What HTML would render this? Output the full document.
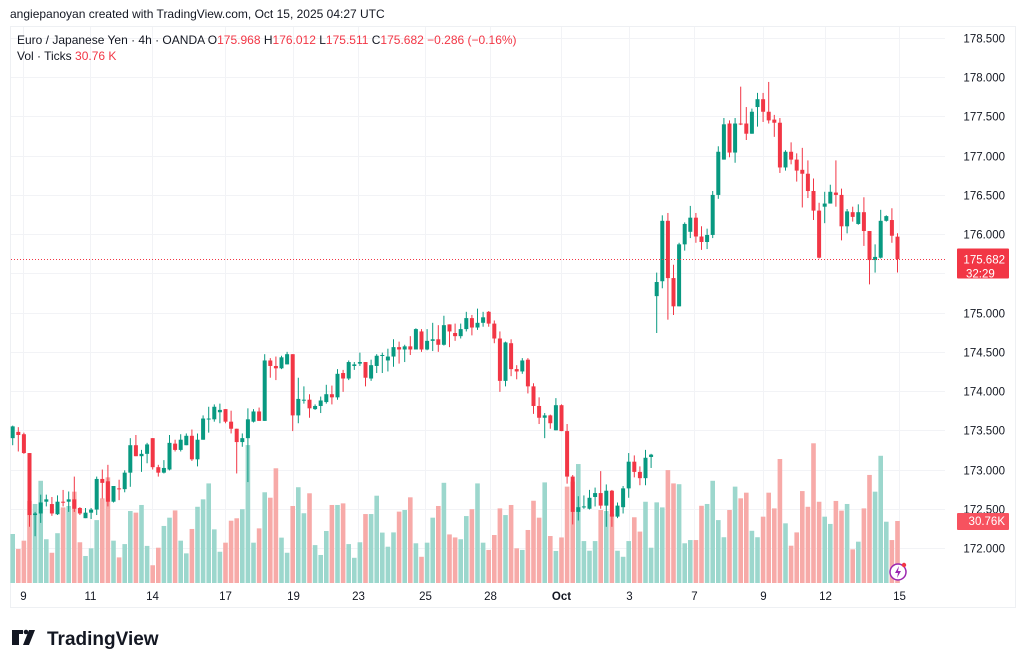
<!DOCTYPE html>
<html><head><meta charset="utf-8">
<style>
html,body{margin:0;padding:0;background:#fff;width:1024px;height:665px;overflow:hidden;font-family:"Liberation Sans",sans-serif;}
svg text{font-family:"Liberation Sans",sans-serif;}
</style></head>
<body>
<svg id="chart" width="1024" height="665" viewBox="0 0 1024 665" xmlns="http://www.w3.org/2000/svg">
  <text x="10" y="18" font-size="12" fill="#131722">angiepanoyan created with TradingView.com, Oct 15, 2025 04:27 UTC</text>
  <rect x="10.5" y="26.5" width="1005" height="581" fill="#fff" stroke="#eef0f3"/>
  <g id="grid"></g>
  <g id="volumes"></g>
  <g id="candles"></g>
  <g id="yaxis"></g>
  <g id="xaxis"></g>
  <g font-size="12" xml:space="preserve">
    <text x="17" y="44" fill="#131722">Euro / Japanese Yen · 4h · OANDA  O<tspan fill="#f23645">175.968</tspan>  H<tspan fill="#f23645">176.012</tspan>  L<tspan fill="#f23645">175.511</tspan>  C<tspan fill="#f23645">175.682  −0.286 (−0.16%)</tspan></text>
    <text x="17" y="60" fill="#131722">Vol · Ticks  <tspan fill="#f23645">30.76 K</tspan></text>
  </g>
  <g>
    <path d="M12 630h11v4h-4v11h-7zM29 630h6l-6 15h-6z" fill="#131722"/>
    <circle cx="26" cy="632" r="2.3" fill="#131722"/>
    <text x="47" y="645" font-size="19" font-weight="bold" fill="#131722">TradingView</text>
  </g>
  <g>
    <circle cx="898" cy="572" r="8" fill="#fff" stroke="#9c27b0" stroke-width="1.5"/>
    <path d="M899 566l-4 7h3l-1 5 4-7h-3z" fill="#9c27b0"/>
    <circle cx="904" cy="565" r="2.2" fill="#f23645"/>
  </g>
</svg>
<script>
const opens=[173.40,173.48,173.45,173.21,172.42,172.44,172.59,172.56,172.43,172.59,172.59,172.62,172.51,172.38,172.45,172.49,172.88,172.85,172.59,172.76,172.75,172.96,173.31,173.17,173.20,173.40,173.03,172.96,173.00,173.33,173.25,173.31,173.43,173.13,
173.38,173.64,173.64,173.73,173.77,173.61,173.52,173.35,173.40,173.61,173.74,173.62,174.39,174.32,174.29,174.34,174.47,173.69,173.89,173.89,173.77,173.81,173.86,173.96,173.92,174.23,174.16,174.32,174.35,174.37,174.16,174.32,174.45,174.39,
174.44,174.56,174.53,174.57,174.53,174.76,174.53,174.64,174.66,174.59,174.85,174.74,174.70,174.79,174.93,174.81,174.87,175.01,174.86,174.67,174.13,174.61,174.28,174.25,174.40,174.06,173.81,173.66,173.69,173.50,173.82,173.49,172.91,
172.46,172.52,172.50,172.65,172.70,172.54,172.73,172.40,172.52,172.76,173.10,172.97,172.89,173.16,175.21,175.40,176.17,175.44,175.08,175.87,176.03,176.21,175.97,175.90,175.99,176.50,176.95,177.41,177.04,177.41,177.41,177.28,177.62,177.72,177.56,177.46,177.42,176.85,177.05,176.95,176.82,176.77,176.55,176.30,176.35,176.39,176.53,176.50,176.10,176.28,176.13,176.28,176.04,175.67,175.70,176.17,176.18,175.968];
const highs=[173.56,173.54,173.47,173.21,172.46,172.68,172.68,172.65,172.67,172.74,172.72,172.91,172.52,172.51,172.51,172.91,173.00,173.06,172.79,172.87,172.99,173.40,173.44,173.25,173.34,173.40,173.06,173.12,173.44,173.38,173.45,173.46,173.51,173.46,
173.69,173.80,173.83,173.84,173.77,173.75,173.52,173.46,173.78,173.77,173.79,174.47,174.42,174.44,174.45,174.50,174.47,174.17,174.06,173.96,173.83,173.93,174.08,174.07,174.28,174.27,174.39,174.37,174.49,174.37,174.40,174.47,174.49,174.54,
174.66,174.63,174.59,174.70,174.80,174.79,174.79,174.87,174.84,174.96,174.85,174.86,174.86,175.01,174.97,175.05,175.01,175.02,174.90,174.76,174.63,174.66,174.33,174.42,174.42,174.10,173.92,173.72,173.70,173.91,173.83,173.58,172.93,
172.66,172.67,172.74,172.77,172.98,172.81,172.74,172.58,172.79,173.21,173.18,173.04,173.25,173.20,175.51,176.24,176.27,175.61,175.89,176.15,176.36,176.27,176.10,176.07,176.55,177.12,177.48,177.45,177.48,177.88,177.62,177.60,177.80,177.80,177.94,177.52,177.48,177.07,177.17,177.03,177.10,176.94,176.71,176.40,176.54,176.63,176.94,176.58,176.32,176.35,176.38,176.47,176.04,175.87,176.31,176.24,176.33,176.012];
const lows=[173.31,173.23,173.20,172.27,172.15,172.32,172.53,172.41,172.42,172.53,172.46,172.46,172.42,172.38,172.37,172.42,172.63,172.53,172.58,172.61,172.71,172.78,173.17,172.97,173.08,173.00,172.91,172.95,172.99,173.23,173.23,173.31,173.11,173.04,
173.38,173.47,173.61,173.59,173.59,173.46,172.95,173.29,172.84,173.60,173.62,173.62,174.17,174.14,174.28,174.34,173.49,173.59,173.84,173.66,173.76,173.72,173.84,173.83,173.89,173.99,174.14,174.27,174.32,174.06,174.13,174.23,174.23,174.25,
174.31,174.35,174.37,174.46,174.53,174.50,174.52,174.51,174.50,174.58,174.56,174.64,174.67,174.76,174.71,174.78,174.82,174.82,174.61,173.99,174.06,174.19,174.15,174.22,173.97,173.71,173.58,173.40,173.52,173.50,173.49,172.82,172.30,
172.35,172.50,172.49,172.53,172.50,172.27,172.27,172.38,172.44,172.64,172.90,172.80,172.80,173.02,174.74,175.31,174.91,174.97,175.08,175.79,175.95,175.89,175.80,175.81,175.95,176.45,176.95,176.98,176.91,177.39,177.20,177.28,177.37,177.43,177.41,177.24,176.78,176.81,176.89,176.67,176.34,176.46,176.18,175.69,176.14,176.39,176.35,175.92,176.01,176.16,176.12,175.85,175.36,175.51,175.69,176.16,175.89,175.511];
const closes=[173.55,173.44,173.21,172.42,172.44,172.58,172.62,172.44,172.59,172.58,172.62,172.50,172.44,172.45,172.49,172.88,172.83,172.59,172.79,172.75,172.96,173.31,173.17,173.20,173.32,173.03,172.96,173.02,173.34,173.25,173.38,173.43,173.13,173.38,
173.65,173.65,173.80,173.76,173.61,173.52,173.35,173.40,173.64,173.74,173.62,174.39,174.32,174.29,174.43,174.47,173.69,173.90,173.89,173.78,173.81,173.88,173.96,173.92,174.22,174.16,174.37,174.34,174.37,174.17,174.33,174.45,174.46,174.44,
174.56,174.53,174.57,174.53,174.79,174.53,174.64,174.66,174.59,174.84,174.76,174.70,174.79,174.93,174.81,174.87,174.94,174.86,174.67,174.13,174.62,174.28,174.25,174.39,174.06,173.81,173.66,173.69,173.59,173.82,173.49,172.91,172.46,
172.52,172.53,172.64,172.70,172.54,172.73,172.40,172.54,172.76,173.10,172.97,172.89,173.15,173.19,175.39,176.17,175.44,175.08,175.87,176.13,176.21,175.97,175.90,175.99,176.50,177.05,177.40,177.04,177.41,177.40,177.28,177.56,177.72,177.56,177.45,177.42,176.85,177.05,176.95,176.81,176.77,176.55,176.30,175.70,176.39,176.54,176.50,176.10,176.29,176.22,176.28,176.04,175.67,175.71,176.17,176.23,175.98,175.682];
const volumes=[24.3,16.9,21.0,40.7,39.2,50.7,21.7,15.0,24.7,37.5,38.2,45.3,20.2,13.4,17.2,31.2,42.0,52.4,21.0,12.7,19.3,35.7,34.9,38.7,18.4,8.8,17.5,28.3,32.4,36.0,21.0,14.7,26.8,37.8,
41.5,49.4,26.6,15.5,20.0,30.9,32.1,36.6,68.4,20.0,27.1,45.0,42.3,56.9,22.5,15.0,38.2,47.5,34.6,44.5,18.8,13.9,25.8,38.7,38.7,39.5,19.3,12.5,20.2,34.2,34.2,43.3,25.0,18.0,
25.1,35.4,36.2,42.5,19.7,13.0,20.0,32.4,38.2,49.7,24.1,22.6,21.7,33.2,36.6,49.4,20.0,16.4,23.8,37.0,33.7,38.7,17.2,16.4,26.3,40.8,32.4,49.9,23.3,15.9,22.6,47.8,50.3,
59.0,20.8,16.0,20.8,36.2,35.7,34.2,16.0,13.0,20.8,32.6,25.5,40.3,17.5,40.0,37.5,56.0,49.4,49.0,19.7,21.3,21.3,38.3,39.2,50.7,31.2,22.7,36.2,47.8,42.0,44.8,25.9,22.7,32.9,44.8,37.0,61.5,29.6,18.5,25.1,45.6,37.8,69.3,40.3,32.9,29.3,40.7,35.9,39.2,16.7,20.5,37.0,53.6,45.3,63.1,30.4,21.3,30.76];
const priceTicks=[178.5,178.0,177.5,177.0,176.5,176.0,175.5,175.0,174.5,174.0,173.5,173.0,172.5,172.0];
const dateLabels=["9","11","14","17","19","23","25","28","Oct","3","7","9","12","15"];
const dateIndex=[1.8,13.8,24.9,37.9,50,61.7,73.6,85.2,97.9,110,121.7,134,145,158.2];

const NS="http://www.w3.org/2000/svg";
const X0=12.7, STEP=5.6;
function xScale(i){return X0+i*STEP;}
function yScale(p){return 38+(178.5-p)*78.46;}
function vScale(v){return 583-v/0.496;}
function mk(tag,attrs,parent){const e=document.createElementNS(NS,tag);for(const k in attrs)e.setAttribute(k,attrs[k]);parent.appendChild(e);return e;}
const grid=document.getElementById('grid'),vol=document.getElementById('volumes'),cg=document.getElementById('candles'),ya=document.getElementById('yaxis'),xa=document.getElementById('xaxis');

priceTicks.forEach(p=>{
  const y=Math.round(yScale(p))+0.5;
  const l=mk('line',{x1:11,x2:945,y1:y,y2:y,stroke:'#f2f3f6'},grid);
  
  
  const t=mk('text',{x:1005,y:y+4,'font-size':11.5,fill:'#131722','text-anchor':'end'},ya);
  
  
  t.textContent=p.toFixed(3);
});
dateLabels.forEach((d,k)=>{
  const x=Math.round(xScale(dateIndex[k]))+0.5;
  const l=mk('line',{x1:x,x2:x,y1:27,y2:583,stroke:'#f2f3f6'},grid);
  
  
  const t=mk('text',{x:x,y:600,'font-size':11.5,fill:'#131722','text-anchor':'middle','font-weight':d==='Oct'?'bold':'normal'},xa);
  
  
  t.textContent=d;
});
closes.forEach((c,i)=>{
  const up=c>=opens[i];
  const x=xScale(i);
  const vy=vScale(volumes[i]);
  const vb=mk('rect',{x:x-2.3,y:vy,width:4.6,height:583-vy,fill:up?'#9cd7cd':'#f7aaa8'},vol);
  
  
});
closes.forEach((c,i)=>{
  const up=c>=opens[i];
  const col=up?'#089981':'#f23645';
  const x=xScale(i);
  const w=mk('line',{x1:x,x2:x,y1:yScale(highs[i]),y2:yScale(lows[i]),stroke:col,'stroke-width':1},cg);
  
  
  const yt=yScale(Math.max(opens[i],c)), yb=yScale(Math.min(opens[i],c));
  const b=mk('rect',{x:x-2,y:yt,width:4,height:Math.max(1,yb-yt),fill:col},cg);
  
  
});
const last=closes[closes.length-1];
const ly=Math.round(yScale(last))+0.5;
const pl=mk('line',{x1:11,x2:945,y1:ly,y2:ly,stroke:'#f23645','stroke-dasharray':'1 2','stroke-width':1},ya);


const pb=mk('rect',{x:957,y:ly-11,width:52,height:30,fill:'#f23645',rx:1},ya);


const pt=mk('text',{x:1005,y:ly+4,'font-size':11.5,fill:'#fff','text-anchor':'end'},ya);


pt.textContent=last.toFixed(3);
const ct=mk('text',{x:966,y:ly+18,'font-size':11.5,fill:'#fff'},ya);


ct.textContent='32:29';
const lastV=volumes[volumes.length-1];
const vyy=vScale(lastV);
const vbx=mk('rect',{x:957,y:vyy-8,width:52,height:17,fill:'#f7525f',rx:1},ya);


const vt=mk('text',{x:1005,y:vyy+4,'font-size':11.5,fill:'#fff','text-anchor':'end'},ya);


vt.textContent=lastV.toFixed(2)+'K';
</script>
</body></html>
